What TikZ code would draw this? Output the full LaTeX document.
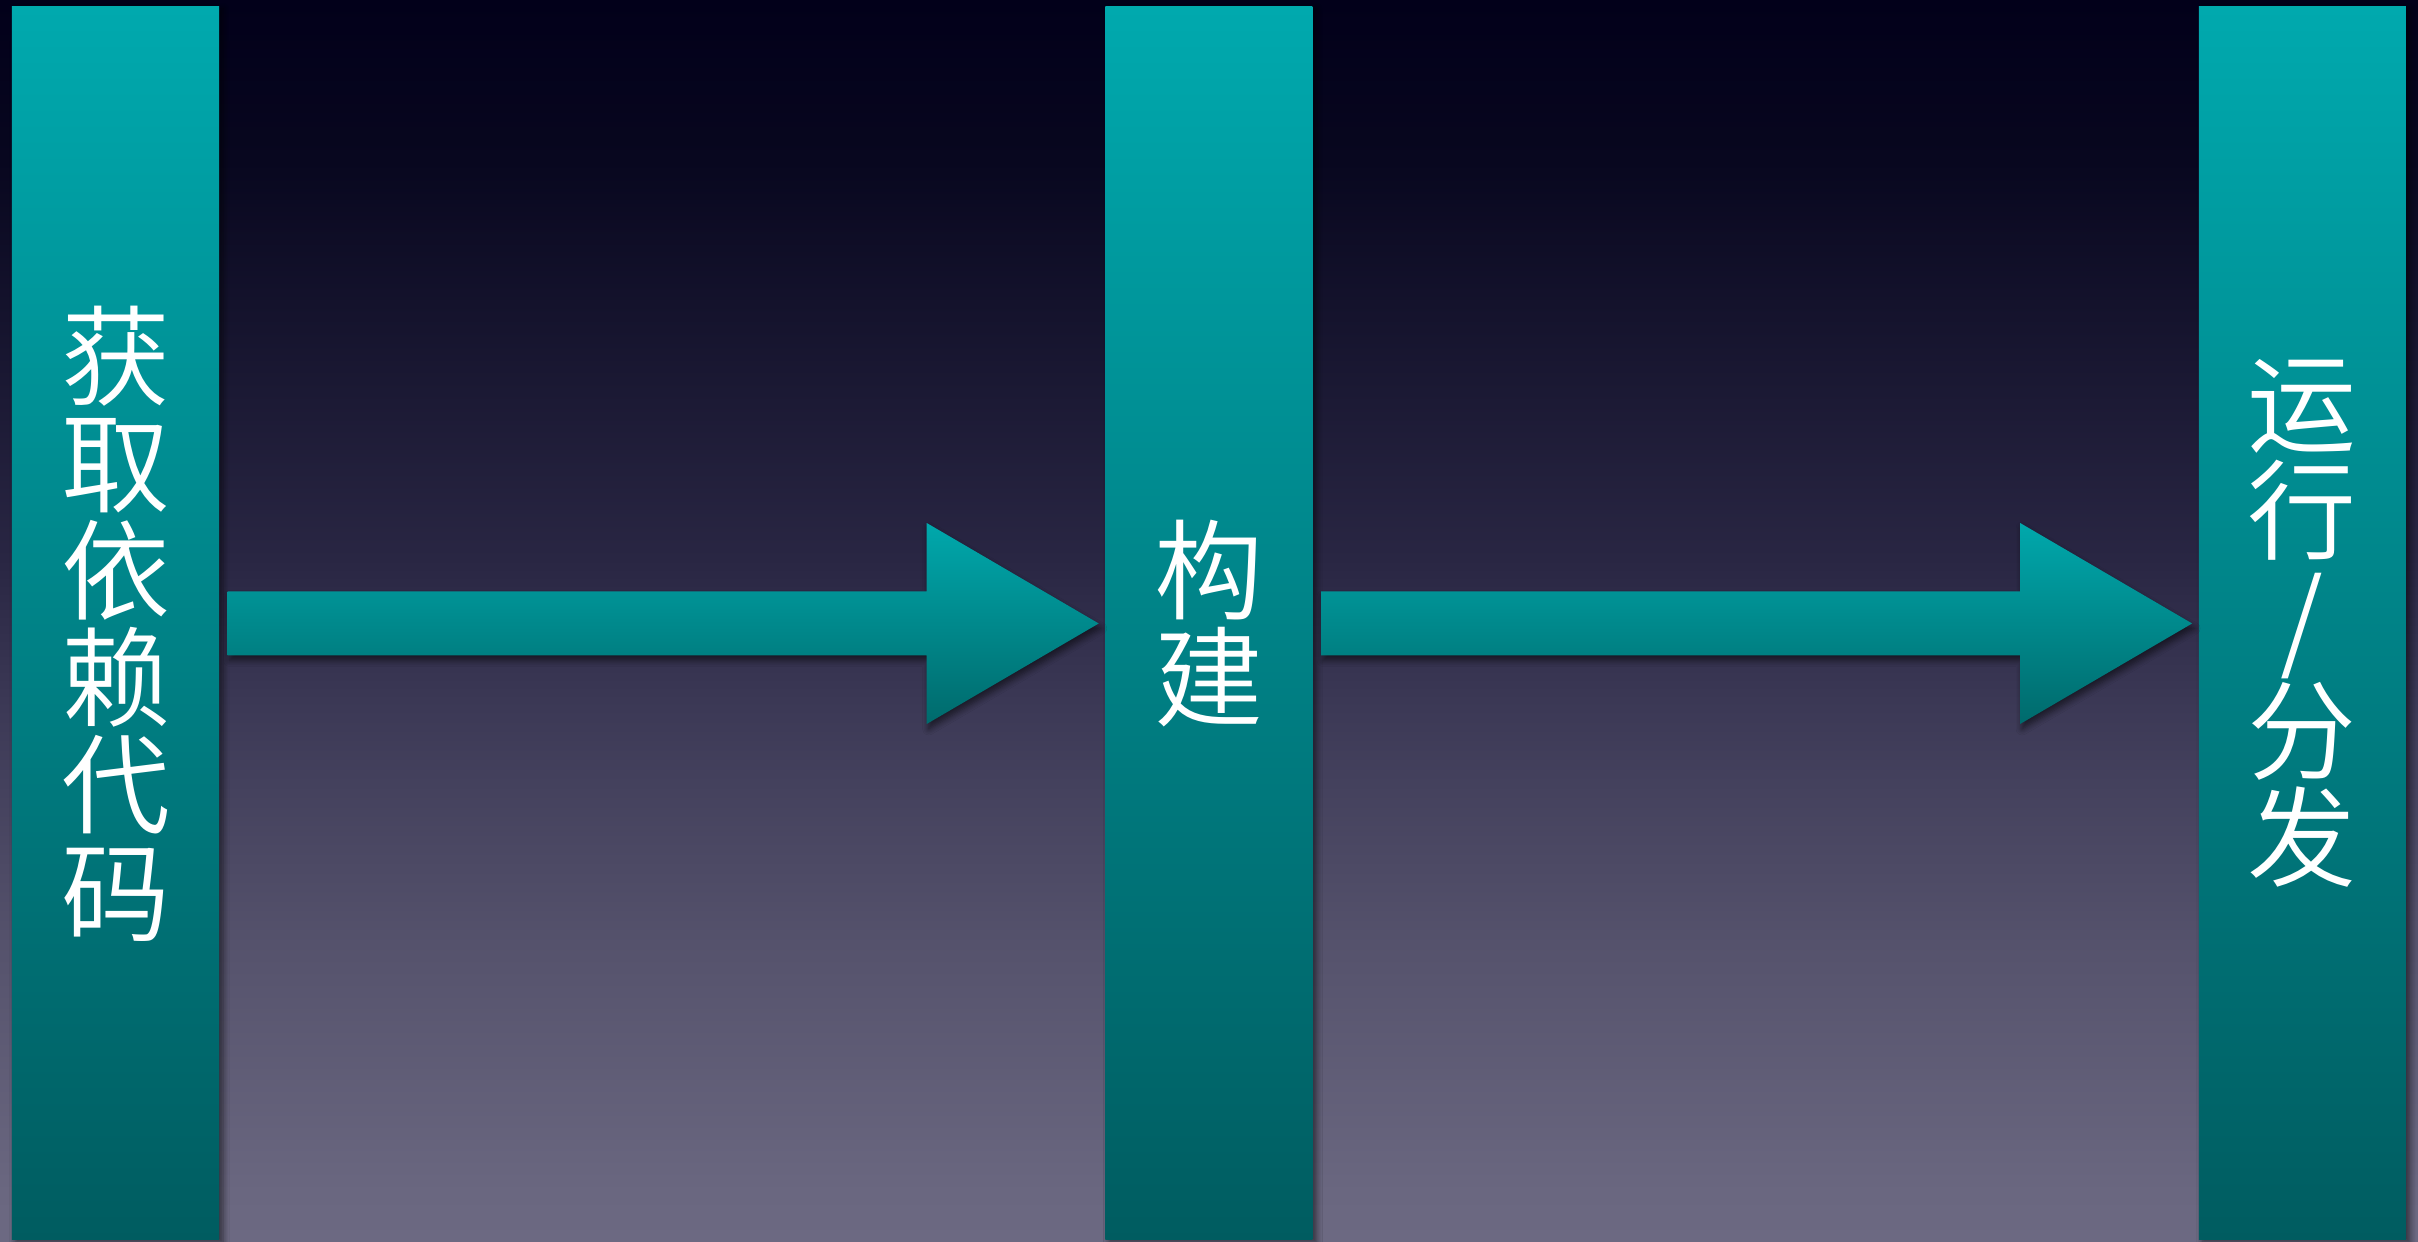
\documentclass[tikz,border=0pt]{standalone}
\usepackage{fontspec}
\newfontfamily\cjk{Noto Sans CJK SC DemiLight}
\usetikzlibrary{positioning,calc,shadows.blur}

\definecolor{bg0}{HTML}{6C6982}
\definecolor{bg1}{HTML}{6A6780}
\definecolor{bg2}{HTML}{55526C}
\definecolor{bg3}{HTML}{3C3956}
\definecolor{bg4}{HTML}{292643}
\definecolor{bg5}{HTML}{08071F}
\definecolor{bg6}{HTML}{02001A}
\definecolor{colTop}{HTML}{00A9AE}
\definecolor{colBot}{HTML}{005C60}
\definecolor{arrTop}{HTML}{00A8AC}
\definecolor{arrBot}{HTML}{006A6C}

\pgfdeclareverticalshading{sky}{100bp}{color(0bp)=(bg0); color(25bp)=(bg0);
  color(27bp)=(bg1); color(37bp)=(bg2); color(46.5bp)=(bg3); color(52.5bp)=(bg4);
  color(68.5bp)=(bg5); color(75bp)=(bg6); color(100bp)=(bg6)}

\begin{document}
\begin{tikzpicture}[auto,node distance = 8.85cm]

\tikzstyle{stage}=[rectangle,inner sep=0pt,minimum width=2.07cm,minimum height=12.33cm,
  top color=colTop,bottom color=colBot,text=white,align=center,
  font=\cjk\fontsize{31}{30.5}\selectfont,
  blur shadow={shadow xshift=0.04cm,shadow yshift=-0.02cm,shadow opacity=55,shadow blur steps=6}]
\tikzstyle{flow}=[draw=none,top color=arrTop,bottom color=arrBot,
  blur shadow={shadow xshift=0.02cm,shadow yshift=-0.05cm,shadow opacity=55,shadow blur steps=6},
  to path={let \p1=(\tikztostart.east), \p2=(\tikztotarget.west) in
    (\x1+0.08cm,\y1-0.32cm) -- (\x2-1.78cm,\y1-0.32cm) -- (\x2-1.78cm,\y1-1.005cm)
    -- (\x2-0.06cm,\y1) -- (\x2-1.78cm,\y1+1.005cm) -- (\x2-1.78cm,\y1+0.32cm)
    -- (\x1+0.08cm,\y1+0.32cm) -- cycle}]

%background
\shade [shading=sky] (0,0) rectangle (24.18,12.42);
\useasboundingbox (0,0) rectangle (24.18,12.42);

%stages
\node [stage] (get) at (1.155,6.185) {获\\取\\依\\赖\\代\\码};
\node [stage] (build) [right=of get] {构\\建};
\node [stage] (run) [right=of build] {运\\行\\/\\分\\发};

\path (get) edge [flow] (build)
      (build) edge [flow] (run);

\end{tikzpicture}
\end{document}
